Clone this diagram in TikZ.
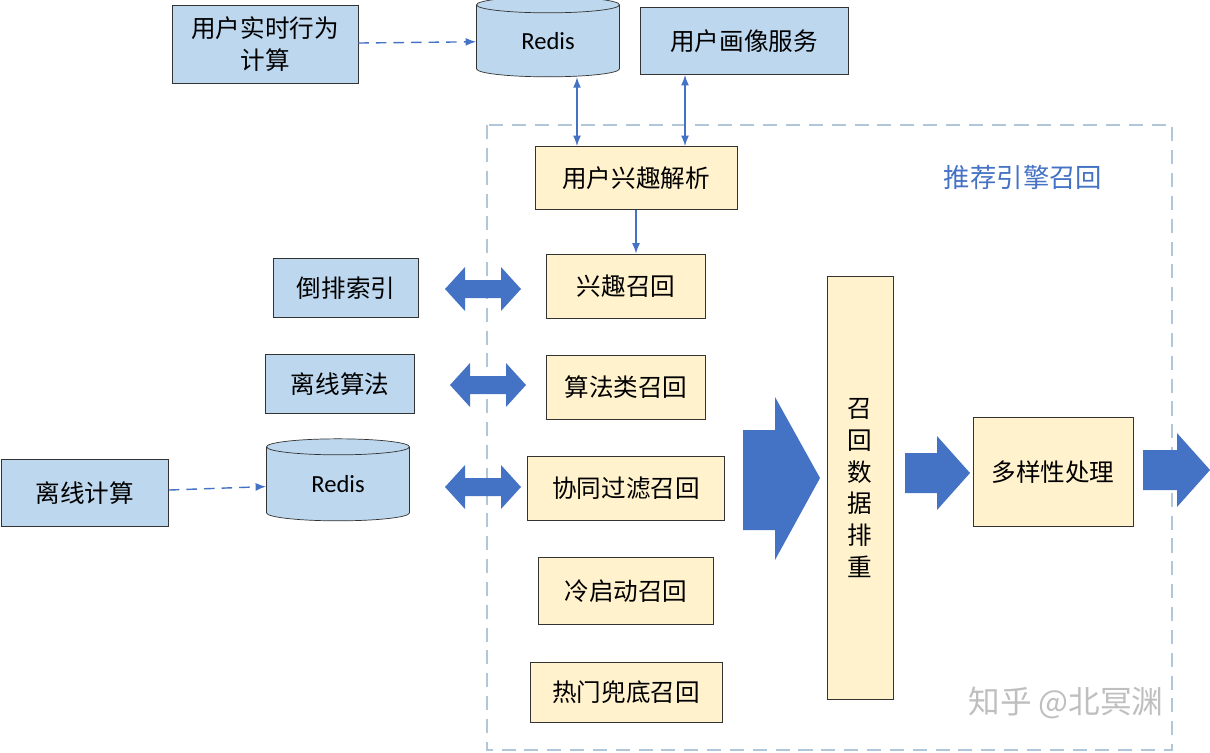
\documentclass[tikz,border=0pt]{standalone}
\usepackage{fontspec}
\setmainfont{Carlito}
\newfontfamily\cjk{Noto Sans CJK SC}
\usetikzlibrary{positioning,shapes.geometric,arrows.meta}
\definecolor{boxblue}{HTML}{BDD7EE}
\definecolor{boxyellow}{HTML}{FFF2CC}
\definecolor{arrowblue}{HTML}{4472C4}
\newdimen\pxu \pxu=0.02cm
\begin{document}
\begin{tikzpicture}[x=0.02cm,y=-0.02cm,
			every node/.style={font=\cjk\fontsize{14}{18}\selectfont},
			bbox/.style={draw=black!80,fill=boxblue,inner sep=0pt,align=center},
			ybox/.style={draw=black!80,fill=boxyellow,inner sep=0pt,align=center},
			db/.style={cylinder,shape border rotate=90,aspect=0.3,draw=black!80,fill=boxblue,inner sep=0pt,font=\fontsize{14}{16}\selectfont},
			thin arrow/.style={arrowblue,thick,-{Latex[length=6pt]}},
			both arrow/.style={arrowblue,thick,{Latex[length=6pt]}-{Latex[length=6pt]}},
			fat/.style={fill=arrowblue}]
	\useasboundingbox (0,0) rectangle (1210,752);
	% engine frame
	\draw[boxblue!80!gray,thick,dash pattern=on 8pt off 5pt] (487,125) rectangle (1172,750);
	\node[text=arrowblue,font=\cjk\fontsize{15}{17}\selectfont] (engine) at (1023,177) {推荐引擎召回};
	% top row
	\node (rt) [bbox,minimum width=186\pxu,minimum height=78\pxu] at (265,44) {用户实时行为\\计算};
	\node (redisA) [db,minimum width=143\pxu,minimum height=80\pxu] at (548,41) {Redis};
	\node (portrait) [bbox,minimum width=208\pxu,minimum height=67\pxu] at (744,41) {用户画像服务};
	\node (parse) [ybox,minimum width=202\pxu,minimum height=63\pxu] at (636,178) {用户兴趣解析};
	% recall boxes
	\node (interest) [ybox,minimum width=159\pxu,minimum height=64\pxu] at (626,286) {兴趣召回};
	\node (algo) [ybox,minimum width=159\pxu,minimum height=64\pxu] at (626,387) {算法类召回};
	\node (cf) [ybox,minimum width=197\pxu,minimum height=64\pxu] at (626,488) {协同过滤召回};
	\node (cold) [ybox,minimum width=175\pxu,minimum height=67\pxu] at (626,591) {冷启动召回};
	\node (hot) [ybox,minimum width=192\pxu,minimum height=60\pxu] at (626,692) {热门兜底召回};
	% left side
	\node (index) [bbox,minimum width=145\pxu,minimum height=59\pxu] at (346,288) {倒排索引};
	\node (offalgo) [bbox,minimum width=149\pxu,minimum height=59\pxu] at (340,384) {离线算法};
	\node (redisB) [db,minimum width=143\pxu,minimum height=82\pxu] at (338,484) {Redis};
	\node (offcalc) [bbox,minimum width=167\pxu,minimum height=67\pxu] at (85,493) {离线计算};
	% right side
	\node (dedup) [ybox,minimum width=66\pxu,minimum height=423\pxu] at (860,488) {召\\回\\数\\据\\排\\重};
	\node (divers) [ybox,minimum width=160\pxu,minimum height=109\pxu] at (1053,472) {多样性处理};
	% connectors
	\draw[thin arrow,dash pattern=on 6pt off 4pt] (rt) -- (redisA);
	\draw[thin arrow,dash pattern=on 6pt off 4pt] (offcalc) -- (redisB);
	\draw[both arrow] (parse.north -| 577,0) -- (redisA.south -| 577,0);
	\draw[both arrow] (parse.north -| 685,0) -- (portrait.south -| 685,0);
	\draw[thin arrow] (parse) -- (interest.north -| parse);
	% fat arrows
	\foreach \x/\y in {445/289, 450/385, 445/487}
		\fill[fat] (\x,\y) -- ++(20,-22) -- ++(0,13) -- ++(36,0) -- ++(0,-13) -- ++(20,22)
			-- ++(-20,22) -- ++(0,-13) -- ++(-36,0) -- ++(0,13) -- cycle;
	\fill[fat] (743,430) -- (775,430) -- (775,397) -- (820,478) -- (775,560) -- (775,530) -- (743,530) -- cycle;
	\foreach \x/\y/\w in {905/473/65, 1143/470/67}
		\fill[fat] (\x,\y-20) -- ++(\w-33,0) -- ++(0,-17) -- ++(33,37) -- ++(-33,37) -- ++(0,-17) -- ++(-\w+33,0) -- cycle;
	\node (mark) [text=black!25,font=\cjk\fontsize{18}{20}\selectfont] at (1066,703) {知乎 @北冥渊};
\end{tikzpicture}
\end{document}
